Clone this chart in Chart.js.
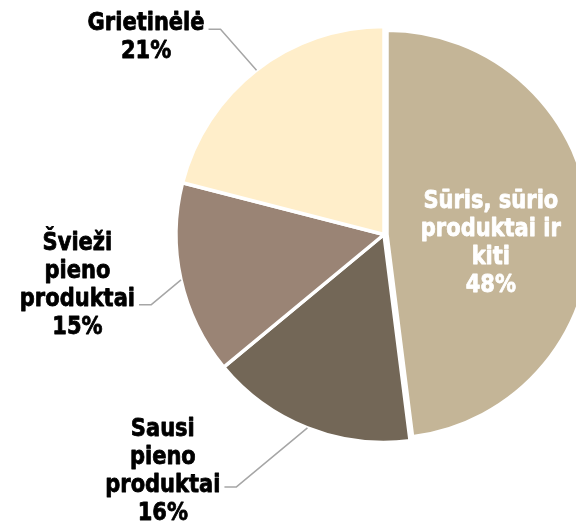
<!DOCTYPE html>
<html>
<head>
<meta charset="utf-8">
<script src="https://cdn.jsdelivr.net/npm/chart.js@4"></script>
<style>
  html, body { margin: 0; padding: 0; background: #fff; overflow: hidden; width: 576px; height: 522px; }
  canvas { display: block; }
</style>
</head>
<body>
<canvas id="pieChart" width="660" height="522"></canvas>
<script>
// chart data
const categories = [
    ['Sūris, sūrio', 'produktai ir', 'kiti'],
    ['Sausi', 'pieno', 'produktai'],
    ['Švieži', 'pieno', 'produktai'],
    ['Grietinėlė']
];
const shares = [48, 16, 15, 21];
const sliceColors = ['#C4B597', '#736757', '#9A8475', '#FFEECA'];

// label placement: inside the slice, or outside with an elbow leader line
const labelLayout = [
    { inside: true, r: 0.51, color: '#ffffff' },
    { elbow: [-71, 59], firstDy: -51 },
    { elbow: [-30, 25], firstDy: -55 },
    { elbow: [-36, -41], firstDy: 1 }
];
// first slice is pulled out a little (like the exploded slice in Excel)
const explodeLayout = [{ shift: 3, shrink: 4 }, null, null, null];

const FONT = 'bold 24px "DejaVu Sans"';
const SQUEEZE = 0.875;
const LINE_H = 28;

function drawLines(ctx, lines, cx, firstBaseline, color) {
    ctx.fillStyle = color;
    ctx.strokeStyle = color;
    ctx.lineWidth = 0.8;
    ctx.lineJoin = 'round';
    lines.forEach((txt, k) => {
        ctx.save();
        ctx.translate(cx, firstBaseline + k * LINE_H);
        ctx.scale(SQUEEZE, 1);
        ctx.fillText(txt, 0, 0);
        ctx.strokeText(txt, 0, 0);
        ctx.restore();
    });
}

const explodeSlices = {
    id: 'explodeSlices',
    beforeDatasetsDraw(chart) {
        chart.getDatasetMeta(0).data.forEach((arc, i) => {
            const e = explodeLayout[i];
            if (!e || arc._exploded) return;
            const mid = (arc.startAngle + arc.endAngle) / 2;
            arc.x += Math.cos(mid) * e.shift;
            arc.y += Math.sin(mid) * e.shift;
            arc.outerRadius -= e.shrink;
            arc._exploded = true;
        });
    }
};

const pieLabels = {
    id: 'pieLabels',
    afterDatasetsDraw(chart) {
        const ctx = chart.ctx;
        const meta = chart.getDatasetMeta(0);
        ctx.save();
        ctx.font = FONT;
        ctx.textAlign = 'center';
        ctx.textBaseline = 'alphabetic';
        meta.data.forEach((arc, i) => {
            const p = arc.getProps(['x', 'y', 'startAngle', 'endAngle', 'outerRadius'], true);
            const mid = (p.startAngle + p.endAngle) / 2;
            const lines = chart.data.labels[i].concat([shares[i] + '%']);
            const lay = labelLayout[i];
            if (lay.inside) {
                const cx = p.x + Math.cos(mid) * p.outerRadius * lay.r;
                const cy = p.y + Math.sin(mid) * p.outerRadius * lay.r;
                const first = cy - (lines.length - 1) / 2 * LINE_H + 22;
                drawLines(ctx, lines, cx, first, lay.color);
                return;
            }
            const ex = p.x + Math.cos(mid) * p.outerRadius;
            const ey = p.y + Math.sin(mid) * p.outerRadius;
            const bx = ex + lay.elbow[0];
            const by = ey + lay.elbow[1];
            const endX = bx - 12;
            ctx.strokeStyle = '#A6A6A6';
            ctx.lineWidth = 1.5;
            ctx.beginPath();
            ctx.moveTo(ex, ey);
            ctx.lineTo(bx, by);
            ctx.lineTo(endX, by);
            ctx.stroke();
            const maxW = Math.max(...lines.map(t => ctx.measureText(t).width)) * SQUEEZE;
            const cx = endX - 4 - maxW / 2;
            drawLines(ctx, lines, cx, by + lay.firstDy, '#000000');
        });
        ctx.restore();
    }
};

const ctxPie = document.getElementById('pieChart').getContext('2d');
new Chart(ctxPie, {
    type: 'pie',
    data: {
        labels: categories,
        datasets: [{
            data: shares,
            backgroundColor: sliceColors,
            borderColor: '#ffffff',
            borderWidth: 3.5,
            hoverBorderWidth: 3.5,
            hoverOffset: 0
        }]
    },
    options: {
        responsive: false,
        animation: false,
        radius: 208,
        layout: { padding: { left: 154, top: 4.5, right: 46, bottom: 57.5 } },
        plugins: {
            legend: { display: false },
            tooltip: { enabled: false }
        },
        events: []
    },
    plugins: [explodeSlices, pieLabels]
});
</script>
</body>
</html>
